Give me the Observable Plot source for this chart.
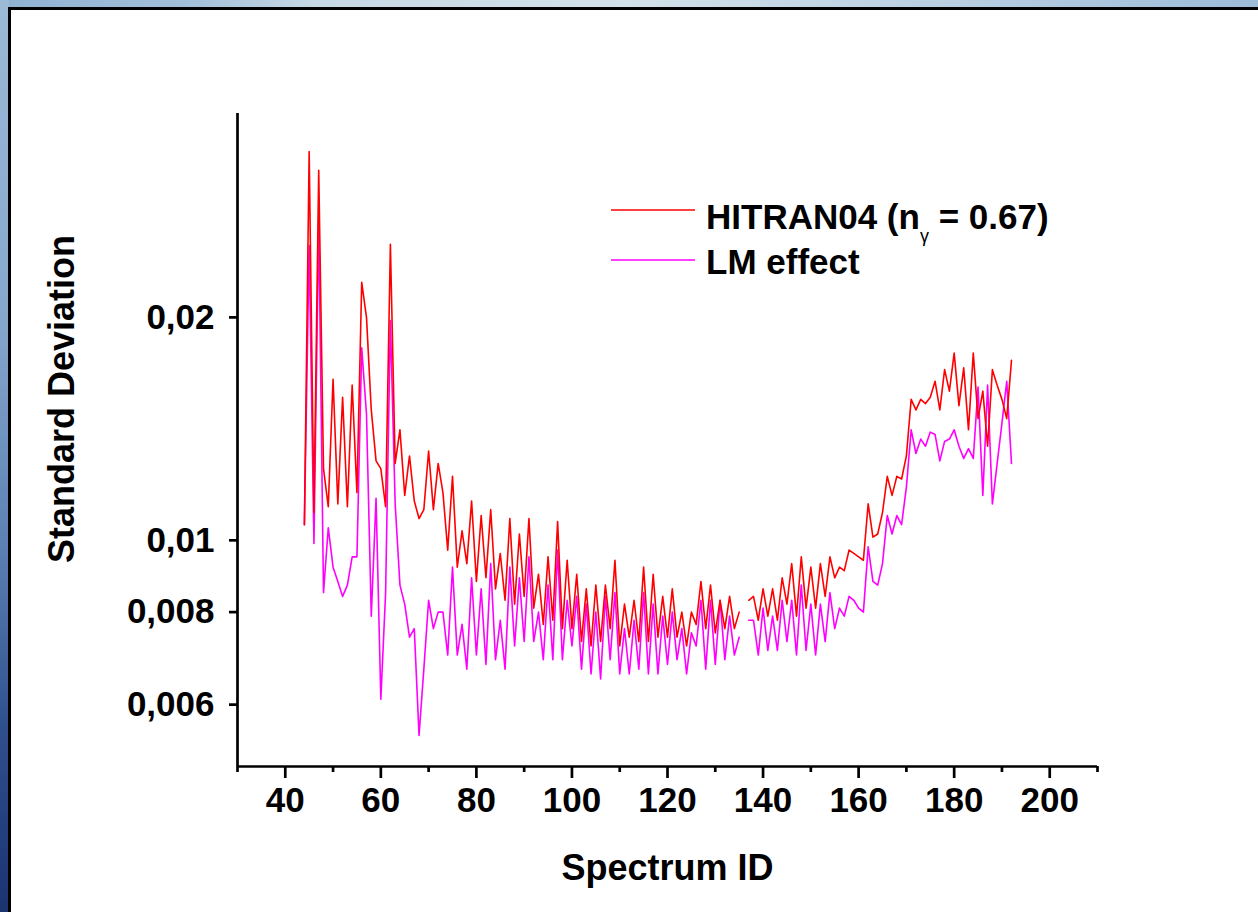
<!DOCTYPE html>
<html>
<head>
<meta charset="utf-8">
<script src="https://cdn.jsdelivr.net/npm/d3@7"></script>
<script src="https://cdn.jsdelivr.net/npm/@observablehq/plot@0.6"></script>
<style>
  html, body { margin: 0; padding: 0; }
  body { width: 1258px; height: 912px; overflow: hidden; font-family: "Liberation Sans", Arial, sans-serif; }
  #stage { position: relative; width: 1258px; height: 912px; overflow: hidden;
    background: linear-gradient(to right, #8fb2d4 0%, #a3c0da 15%, #c6d8e4 25%, #d3e2ea 50%, #b9cfe2 75%, #9dbcd9 100%); }
  #leftband { position: absolute; left: 0; top: 0; width: 9px; height: 912px;
    background: linear-gradient(to bottom, #9cbad6 0%, #86a7cc 35%, #5c80b3 60%, #2f4f8c 80%, #1a3470 100%); }
  #panel { position: absolute; left: 8px; top: 7px; width: 1270px; height: 920px;
    border-top: 3px solid #000; border-left: 3px solid #000; background: #fff; }
  #chart { position: absolute; left: 0; top: 0; }
  #legend { position: absolute; left: 0; top: 0; }
</style>
</head>
<body>
<div id="stage">
  <div id="leftband"></div>
  <div id="panel"></div>
  <div id="chart"></div>
  <svg id="legend" width="1258" height="912" xmlns="http://www.w3.org/2000/svg"></svg>
</div>
<script>
// ---- data ----
const spectrumIds = d3.range(44, 193); // spectrum IDs 44..192 (136 missing -> null)

const hitran04 = [
  0.0105, 0.0335, 0.0109, 0.0316, 0.0125, 0.0111, 0.0165, 0.0112, 0.0156, 0.0111,
  0.0162, 0.0116, 0.0223, 0.0200, 0.0150, 0.0128, 0.0125, 0.0111, 0.0251, 0.0127,
  0.0141, 0.0115, 0.0130, 0.0113, 0.0107, 0.0110, 0.0132, 0.0110, 0.0127, 0.0116,
  0.0097, 0.0122, 0.0092, 0.0103, 0.0093, 0.0113, 0.0088, 0.0108, 0.0089, 0.0110,
  0.0086, 0.0096, 0.0083, 0.0107, 0.0082, 0.0102, 0.0084, 0.0107, 0.0081, 0.0090,
  0.0077, 0.0095, 0.0078, 0.0106, 0.0076, 0.0094, 0.0076, 0.0090, 0.0073, 0.0086,
  0.0072, 0.0087, 0.0073, 0.0087, 0.0076, 0.0094, 0.0072, 0.0082, 0.0074, 0.0083,
  0.0073, 0.0092, 0.0073, 0.0090, 0.0074, 0.0084, 0.0074, 0.0086, 0.0074, 0.0080,
  0.0072, 0.0080, 0.0077, 0.0088, 0.0076, 0.0087, 0.0075, 0.0083, 0.0076, 0.0084,
  0.0076, 0.0080, null,   0.0083, 0.0084, 0.0078, 0.0086, 0.0079, 0.0086, 0.0078,
  0.0089, 0.0082, 0.0093, 0.0079, 0.0095, 0.0081, 0.0092, 0.0081, 0.0093, 0.0084,
  0.0095, 0.0089, 0.0092, 0.0091, 0.0097, 0.0096, 0.0095, 0.0094, 0.0112, 0.0101,
  0.0102, 0.0109, 0.0122, 0.0115, 0.0122, 0.0121, 0.0130, 0.0155, 0.0150, 0.0155,
  0.0153, 0.0156, 0.0164, 0.0150, 0.0170, 0.0159, 0.0179, 0.0152, 0.0171, 0.0141,
  0.0179, 0.0146, 0.0159, 0.0134, 0.0170, 0.0162, 0.0155, 0.0146, 0.0175
];

const lmEffect = [
  0.0105, 0.0250, 0.0099, 0.0270, 0.0085, 0.0104, 0.0092, 0.0088, 0.0084, 0.0087,
  0.0095, 0.0095, 0.0182, 0.0148, 0.0079, 0.0114, 0.0061, 0.0085, 0.0198, 0.0112,
  0.0087, 0.0082, 0.0074, 0.0076, 0.00545, 0.0067, 0.0083, 0.0076, 0.0080, 0.0080,
  0.0070, 0.0092, 0.0070, 0.0077, 0.0067, 0.0089, 0.0070, 0.0086, 0.0068, 0.0093,
  0.0069, 0.0078, 0.0067, 0.0092, 0.0072, 0.0089, 0.0073, 0.0095, 0.0073, 0.0080,
  0.0069, 0.0087, 0.0069, 0.0097, 0.0069, 0.0083, 0.0072, 0.0084, 0.0067, 0.0082,
  0.0066, 0.0080, 0.0065, 0.0084, 0.0069, 0.0085, 0.0066, 0.0076, 0.0066, 0.0078,
  0.0067, 0.0085, 0.0066, 0.0082, 0.0066, 0.0079, 0.0068, 0.0080, 0.0069, 0.0076,
  0.0066, 0.0075, 0.0072, 0.0083, 0.0067, 0.0083, 0.0068, 0.0083, 0.0069, 0.0079,
  0.0070, 0.0074, null,   0.0078, 0.0078, 0.0070, 0.0081, 0.0071, 0.0079, 0.0071,
  0.0083, 0.0073, 0.0083, 0.0070, 0.0087, 0.0071, 0.0082, 0.0070, 0.0082, 0.0073,
  0.0085, 0.0076, 0.0081, 0.0079, 0.0084, 0.0083, 0.0081, 0.0080, 0.0098, 0.0088,
  0.0087, 0.0093, 0.0108, 0.0102, 0.0108, 0.0105, 0.0118, 0.0141, 0.0131, 0.0137,
  0.0134, 0.0140, 0.0139, 0.0128, 0.0136, 0.0137, 0.0141, 0.0134, 0.0129, 0.0133,
  0.0129, 0.0161, 0.0115, 0.0162, 0.0112, 0.0127, 0.0144, 0.0164, 0.0127
];

const seriesNames = ["HITRAN04", "LM effect"];
const seriesColors = ["#ff0000", "#ff00ff"];

const xDomain = [30, 210];
const xMajorTicks = [40, 60, 80, 100, 120, 140, 160, 180, 200];
const xMinorTicks = [30, 50, 70, 90, 110, 130, 150, 170, 190, 210];
const yDomain = [0.00495, 0.0377];
const yTicks = [0.006, 0.008, 0.01, 0.02];
const yTickLabels = ["0,006", "0,008", "0,01", "0,02"];
const xTitle = "Spectrum ID";
const yTitle = "Standard Deviation";

// ---- build table ----
const rowsRed = spectrumIds.map((id, i) => ({id, v: hitran04[i]}));
const rowsMag = spectrumIds.map((id, i) => ({id, v: lmEffect[i]}));

const font = "'Liberation Sans', Arial, Helvetica, sans-serif";

const chart = Plot.plot({
  width: 1258,
  height: 912,
  marginLeft: 237,
  marginRight: 161,
  marginTop: 113,
  marginBottom: 146,
  style: {background: "transparent", fontFamily: font, color: "#000", overflow: "visible"},
  x: {domain: xDomain, axis: null},
  y: {type: "log", domain: yDomain, axis: null},
  marks: [
    Plot.line(rowsMag, {x: "id", y: "v", stroke: seriesColors[1], strokeWidth: 1.6}),
    Plot.line(rowsRed, {x: "id", y: "v", stroke: seriesColors[0], strokeWidth: 1.6}),
    Plot.ruleX([xDomain[0]], {stroke: "#000", strokeWidth: 2.7}),
    Plot.ruleY([yDomain[0]], {stroke: "#000", strokeWidth: 2.7}),
    Plot.axisX({ticks: xMajorTicks, tickSize: 12, tickPadding: 9, fontSize: 35, fontWeight: "bold",
      strokeWidth: 2.7, tickFormat: d => String(d), label: null, fill: "#000"}),
    Plot.axisX({ticks: xMinorTicks, tickSize: 6, strokeWidth: 2.7, tickFormat: () => "", label: null}),
    Plot.axisY({ticks: yTicks, tickSize: 8, tickPadding: 15, fontSize: 35, fontWeight: "bold",
      strokeWidth: 2.7, tickFormat: d => yTickLabels[yTicks.indexOf(d)], label: null, fill: "#000"}),
    Plot.text([xTitle], {frameAnchor: "bottom", dy: 102, lineAnchor: "middle", textAnchor: "middle",
      fontSize: 36, fontWeight: "bold", fill: "#000"}),
    Plot.text([yTitle], {frameAnchor: "left", dx: -175, dy: -41, rotate: -90, lineAnchor: "middle",
      textAnchor: "middle", fontSize: 36, fontWeight: "bold", fill: "#000"})
  ]
});
document.getElementById("chart").appendChild(chart);

// ---- legend ----
const legend = d3.select("#legend");
const legendItems = [
  {color: seriesColors[0], lineY: 210, baseY: 229},
  {color: seriesColors[1], lineY: 260, baseY: 274}
];
legendItems.forEach((it, i) => {
  legend.append("line").attr("x1", 611).attr("x2", 695).attr("y1", it.lineY).attr("y2", it.lineY)
    .attr("stroke", it.color).attr("stroke-width", 1.6);
  const t = legend.append("text").attr("x", 706).attr("y", it.baseY)
    .attr("font-family", font).attr("font-size", 35).attr("font-weight", "bold").attr("fill", "#000");
  if (i === 0) {
    t.append("tspan").text("HITRAN04 (n");
    t.append("tspan").attr("font-size", 18).attr("dy", 13).attr("font-weight", "normal").text("γ");
    t.append("tspan").attr("dy", -13).text(" = 0.67)");
  } else {
    t.text(seriesNames[1]);
  }
});
</script>
</body>
</html>
